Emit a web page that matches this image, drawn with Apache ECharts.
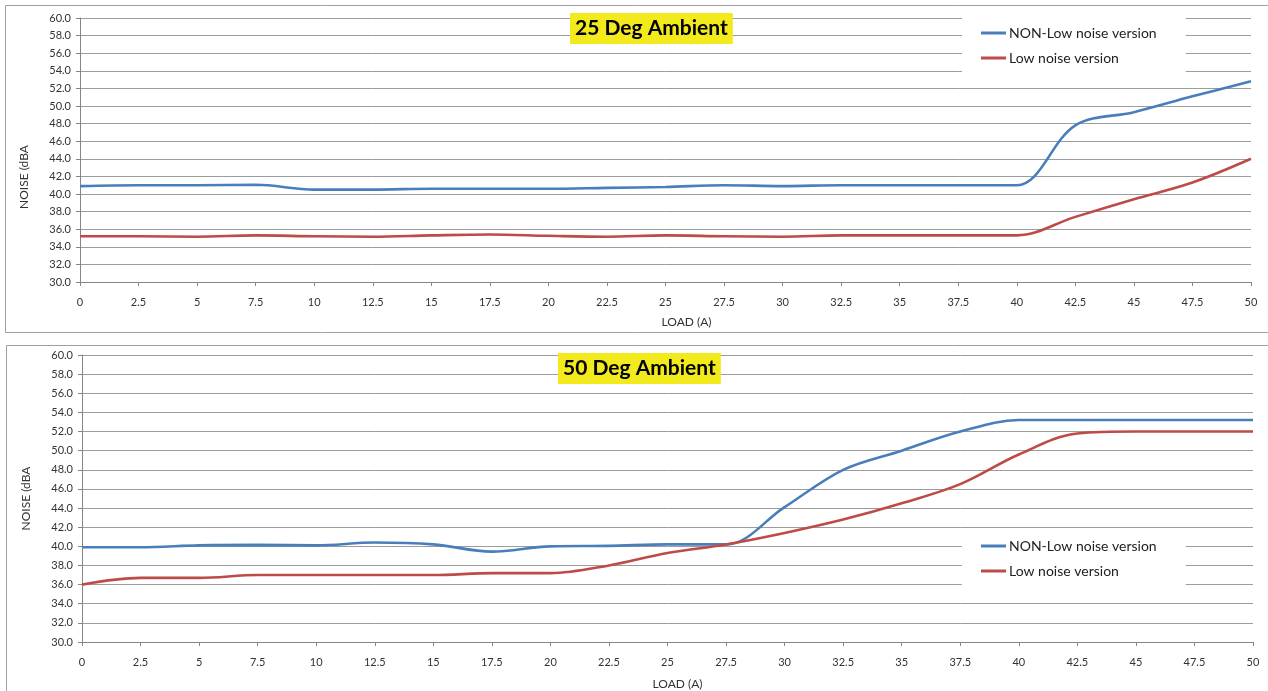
<!DOCTYPE html>
<html>
<head>
<meta charset="utf-8">
<script src="https://cdn.jsdelivr.net/npm/echarts@6/dist/echarts.min.js"></script>
<style>
  html, body { margin: 0; padding: 0; background: #fff; }
  #chart { width: 1268px; height: 691px; }
</style>
</head>
<body>
<div id="chart"></div>
<script>
// load points (A)
const loads = [0, 2.5, 5, 7.5, 10, 12.5, 15, 17.5, 20, 22.5, 25, 27.5, 30, 32.5, 35, 37.5, 40, 42.5, 45, 47.5, 50]

// 25 deg ambient
const nonLow25 = [40.9, 41.0, 41.0, 41.05, 40.5, 40.5, 40.6, 40.6, 40.6, 40.7, 40.8, 41.0, 40.9, 41.0, 41.0, 41.0, 41.0, 47.8, 49.3, 51.1, 52.8]
const low25 = [35.2, 35.2, 35.15, 35.3, 35.2, 35.15, 35.3, 35.4, 35.25, 35.15, 35.3, 35.2, 35.15, 35.3, 35.3, 35.3, 35.3, 37.4, 39.4, 41.3, 44.0]

// 50 deg ambient
const nonLow50 = [39.9, 39.9, 40.1, 40.15, 40.1, 40.4, 40.2, 39.45, 40.0, 40.05, 40.2, 40.2, 44.1, 48.0, 50.0, 52.0, 53.2, 53.2, 53.2, 53.2, 53.2]
const low50 = [36.0, 36.7, 36.7, 37.0, 37.0, 37.0, 37.0, 37.2, 37.2, 38.0, 39.3, 40.2, 41.4, 42.8, 44.5, 46.5, 49.6, 51.8, 52.0, 52.0, 52.0]

const seriesNames = ['NON-Low noise version', 'Low noise version']
const titles = ['25 Deg Ambient', '50 Deg Ambient']

const BLUE = '#4a7ebb'
const RED = '#be4b48'
const FONT = 'Lato, "Open Sans", sans-serif'

const toPairs = (ys) => loads.map((x, i) => [x, ys[i]])

const chart = echarts.init(document.getElementById('chart'))

const makeXAxis = (gridIndex, namePad, nameGap) => ({
    gridIndex,
    type: 'value',
    min: 0,
    max: 50,
    interval: 2.5,
    name: 'LOAD (A)',
    nameLocation: 'middle',
    nameGap,
    nameTextStyle: { fontSize: 12, color: '#333', fontFamily: FONT, padding: namePad },
    axisLine: { show: true, lineStyle: { color: '#868686', width: 1 } },
    axisTick: { show: true, length: 4, lineStyle: { color: '#868686' } },
    axisLabel: { fontSize: 11, color: '#333', margin: 15, fontFamily: FONT },
    splitLine: { show: false }
})

const makeYAxis = (gridIndex, namePad) => ({
    gridIndex,
    type: 'value',
    min: 30,
    max: 60,
    interval: 2,
    name: 'NOISE (dBA',
    nameLocation: 'middle',
    nameGap: 50,
    nameRotate: 90,
    nameTextStyle: { fontSize: 12, color: '#333', fontFamily: FONT, padding: namePad },
    axisLine: { show: true, lineStyle: { color: '#868686', width: 1 } },
    axisTick: { show: true, length: 4, lineStyle: { color: '#868686' } },
    axisLabel: {
        fontSize: 11,
        color: '#333',
        margin: 9,
        fontFamily: FONT,
        formatter: (v) => v.toFixed(1)
    },
    splitLine: { show: true, lineStyle: { color: '#9c9c9c', width: 1 } }
})

const makeLine = (name, data, color, idx) => ({
    name,
    type: 'line',
    xAxisIndex: idx,
    yAxisIndex: idx,
    data,
    smooth: 0.35,
    showSymbol: false,
    lineStyle: { color, width: 2.6 },
    itemStyle: { color }
})

const makeLegend = (top) => ({
    orient: 'vertical',
    left: 962,
    top,
    padding: [8, 29, 8, 19],
    itemGap: 9,
    itemWidth: 25,
    itemHeight: 3,
    icon: 'rect',
    backgroundColor: '#fff',
    textStyle: { fontSize: 14, color: '#222', fontFamily: FONT, lineHeight: 16, padding: [0, 0, 0, -2] },
    data: seriesNames
})

const makeTitle = (text, left, top) => ({
    text,
    left,
    top,
    padding: [5, 5, 5, 5],
    backgroundColor: '#f2ea1c',
    textStyle: { fontSize: 21, fontWeight: 'bold', color: '#000', fontFamily: FONT }
})

chart.setOption({
    animation: false,
    graphic: [
        { type: 'rect', shape: { x: 5.5, y: 5.5, width: 1300, height: 327 }, style: { fill: 'none', stroke: '#a0a0a0', lineWidth: 1 }, z: -10 },
        { type: 'rect', shape: { x: 6.5, y: 345.5, width: 1300, height: 400 }, style: { fill: 'none', stroke: '#a0a0a0', lineWidth: 1 }, z: -10 }
    ],
    title: [
        makeTitle(titles[0], 570, 13),
        makeTitle(titles[1], 558, 353)
    ],
    legend: [makeLegend(17), makeLegend(530)],
    grid: [
        { left: 80, right: 17, top: 18, height: 264 },
        { left: 82, right: 15, top: 355, height: 290 }
    ],
    xAxis: [makeXAxis(0, [0, 0, 0, 42], 34), makeXAxis(1, [0, 0, 0, 20], 36)],
    yAxis: [makeYAxis(0, [0, 54, 0, 0]), makeYAxis(1, [0, 0, 0, 0])],
    series: [
        makeLine(seriesNames[0], toPairs(nonLow25), BLUE, 0),
        makeLine(seriesNames[1], toPairs(low25), RED, 0),
        makeLine(seriesNames[0], toPairs(nonLow50), BLUE, 1),
        makeLine(seriesNames[1], toPairs(low50), RED, 1)
    ]
})
</script>
</body>
</html>
